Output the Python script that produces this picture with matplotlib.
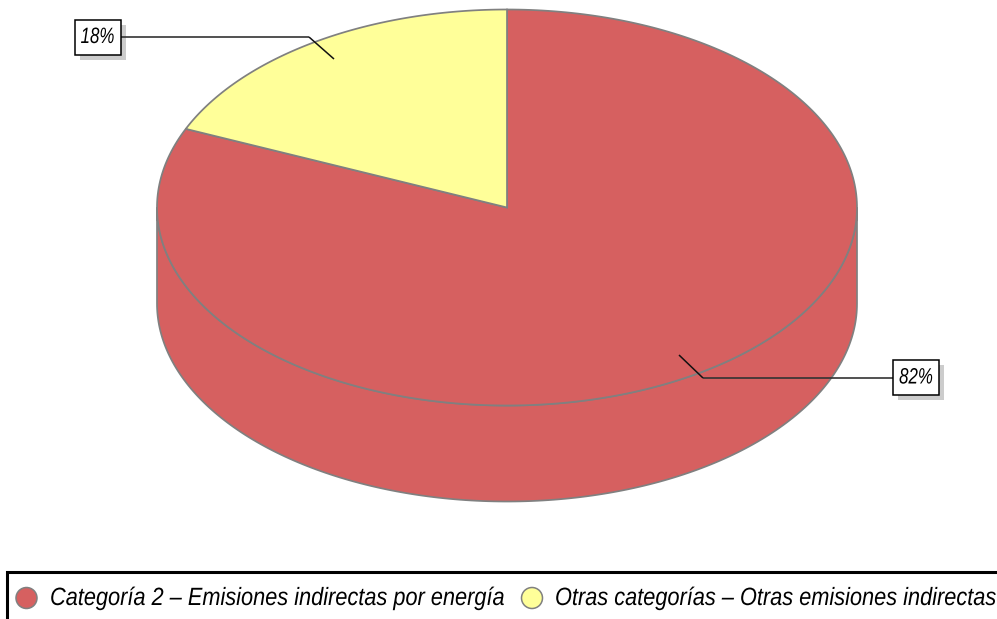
import numpy as np
import matplotlib
matplotlib.use('Agg')
import matplotlib.pyplot as plt
from matplotlib.patches import Polygon, Rectangle, Ellipse
from matplotlib.patheffects import AbstractPathEffect
from matplotlib.text import Text
from matplotlib.transforms import Affine2D, Bbox

categories = ['Categoría 2 – Emisiones indirectas por energía', 'Otras categorías – Otras emisiones indirectas']
values = [81.5, 18.5]
labels = ['82%', '18%']
colors = ['#D66060', '#FFFF99']

family = 'Liberation Sans'
W, H = 997, 619
fig = plt.figure(figsize=(W/100, H/100), dpi=100)
ax = fig.add_axes([0, 0, 1, 1])
ax.set_xlim(0, W); ax.set_ylim(H, 0); ax.axis('off')

cx, cy, rx, ry, depth = 507, 207.5, 350, 198, 96
EDGE = '#808080'
EW = 1.25


class Squeeze(AbstractPathEffect):
    """Narrows the glyphs of a text horizontally about a display x."""
    def __init__(self, x0, sx):
        self.x0, self.sx = x0, sx

    def draw_path(self, renderer, gc, tpath, affine, rgbFace=None):
        t = affine + Affine2D().translate(-self.x0, 0).scale(self.sx, 1).translate(self.x0, 0)
        renderer.draw_path(gc, tpath, t, rgbFace)


class NarrowText(Text):
    """Real text drawn with condensed glyphs, reporting its condensed extent."""
    def __init__(self, x, y, s, sx, **kw):
        super().__init__(x, y, s, **kw)
        self.sx = sx
        self.x0 = ax.transData.transform((x, y))[0]
        self.set_path_effects([Squeeze(self.x0, sx)])

    def get_window_extent(self, renderer=None, dpi=None):
        b = super().get_window_extent(renderer, dpi)
        f = lambda v: self.x0 + (v - self.x0)*self.sx
        return Bbox([[f(b.x0), b.y0], [f(b.x1), b.y1]])


def narrow(x, y, s, sx, **kw):
    t = NarrowText(x, y, s, sx, style='italic', family=family, color='black', **kw)
    ax.add_artist(t)
    return t


def pt(deg):
    r = np.radians(deg)
    return cx + rx*np.cos(r), cy - ry*np.sin(r)


# side wall
t = np.radians(np.linspace(180, 360, 200))
xs = cx + rx*np.cos(t); ys = cy - ry*np.sin(t)
side = np.r_[np.c_[xs, ys], np.c_[xs[::-1], ys[::-1] + depth]]
ax.add_patch(Polygon(side, closed=True, fc=colors[0], ec=EDGE, lw=EW, zorder=1))

# top wedges: start at 12 o'clock, the first value runs clockwise
start = 90
for v, c in zip(values, colors):
    end = start - 360*v/sum(values)
    a = np.linspace(start, end, 300)
    arc = np.array([pt(d) for d in a])
    ax.add_patch(Polygon(np.r_[[[cx, cy]], arc], closed=True, fc=c, ec=EDGE, lw=EW, zorder=2))
    start = end


def callout(text, bx, by, bw, bh, path):
    ax.add_patch(Rectangle((bx+5, by+5), bw, bh, fc='#CCCCCC', ec='none', zorder=3))
    ax.plot(*zip(*path[:2]), color='#333333', lw=1.2, zorder=4, solid_capstyle='butt')
    ax.plot(*zip(*path[1:]), color='#111111', lw=1.1, zorder=4, solid_capstyle='butt')
    ax.add_patch(Rectangle((bx, by), bw, bh, fc='white', ec='black', lw=1.1, zorder=5))
    narrow(bx+bw/2, by+bh/2+0.5, text, 0.76, ha='center', va='center', fontsize=16, zorder=6)


callout(labels[1], 74.5, 19.5, 46, 35, [(120, 37), (309, 37), (334, 59)])
callout(labels[0], 893, 360, 46, 35, [(893, 378), (703, 378), (679, 355)])

# legend box, running off the right and bottom of the picture
ax.add_patch(Rectangle((7, 572.3), W+20, 80, fc='white', ec='black', lw=2.2, zorder=3))
for x_c, x_t, name, c in zip([26.5, 532], [50, 555], categories, colors):
    ax.add_patch(Ellipse((x_c, 598), 21, 21, fc=c, ec=EDGE, lw=1.1, zorder=4))
    narrow(x_t, 598, name, 0.87, ha='left', va='center', fontsize=18, zorder=5)

fig.savefig('out.png', dpi=100)
